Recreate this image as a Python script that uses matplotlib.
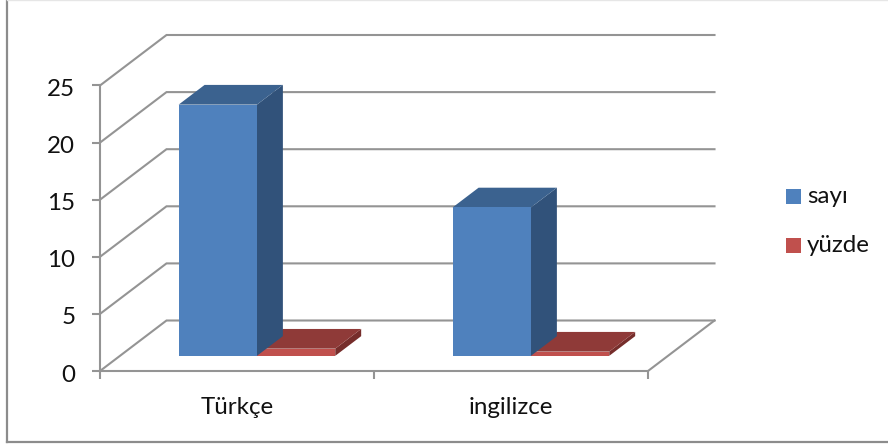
import matplotlib
matplotlib.use("Agg")
import matplotlib.pyplot as plt
from matplotlib.lines import Line2D
from matplotlib.patches import Polygon, Rectangle
from matplotlib.transforms import ScaledTranslation

plt.rcParams['font.family'] = ['Lato', 'DejaVu Sans']

categories = ["Türkçe", "ingilizce"]
series_names = ["sayı", "yüzde"]
sayi = [22, 13]
yuzde = [0.63, 0.37]
value_ticks = [0, 5, 10, 15, 20, 25]

W, H = 888, 448
GRID = "#949494"
TEXT = "#111111"
FONT = 17.4

# Face colours per series: front, top, side
BLUE = ("#4F81BD", "#3B628F", "#31527A")
RED = ("#C0504D", "#8F3A38", "#762D2B")

fig = plt.figure(figsize=(W / 100, H / 100), dpi=100)

# Outer chart frame
fig.add_artist(Line2D([6.5 / W, 6.5 / W], [1, 1 - 442 / H], color="#8C8C8C", lw=1.6))
fig.add_artist(Line2D([6.5 / W, 1], [1 - 442 / H, 1 - 442 / H], color="#8C8C8C", lw=1.6))
fig.add_artist(Line2D([6.5 / W, 1], [0.999, 0.999], color="#E6E6E6", lw=1))

# Axes rectangle is the front plane of the oblique box
left, right, bottom, top = 100, 648, 371, 85.5
ax = fig.add_axes([left / W, 1 - bottom / H, (right - left) / W, (bottom - top) / H])
ax.set_xlim(0, 2)
ax.set_ylim(0, 25)
ax.patch.set_visible(False)

PX_X = (right - left) / 2
PX_Y = (bottom - top) / 25
DEPTH_X = 66.5 / PX_X   # full depth of the box in data units
DEPTH_Y = 50.5 / PX_Y


def oblique(x, v, d):
    """Shift a data point by depth fraction d towards the back wall."""
    return x + d * DEPTH_X, v + d * DEPTH_Y


# Side-wall and back-wall gridlines
for v in value_ticks:
    xs, ys = zip(oblique(0, v, 0), oblique(0, v, 1), oblique(2, v, 1))
    ax.plot(xs, ys, color=GRID, lw=1.5, clip_on=False, zorder=1, solid_joinstyle="miter")
# Right floor edge
xs, ys = zip(oblique(2, 0, 0), oblique(2, 0, 1))
ax.plot(xs, ys, color=GRID, lw=1.5, clip_on=False, zorder=1)

GAP = 1.5
BAR = 1 / (len(series_names) + GAP)
D0, D1 = 0.30, 0.69


def bar3d(x0, value, colours):
    x1 = x0 + BAR
    faces = [
        (colours[2], [(x1, 0, D0), (x1, 0, D1), (x1, value, D1), (x1, value, D0)]),
        (colours[1], [(x0, value, D0), (x1, value, D0), (x1, value, D1), (x0, value, D1)]),
        (colours[0], [(x0, 0, D0), (x1, 0, D0), (x1, value, D0), (x0, value, D0)]),
    ]
    for colour, corners in faces:
        ax.add_patch(Polygon([oblique(*c) for c in corners], closed=True,
                             facecolor=colour, edgecolor="none", clip_on=False, zorder=3))


for i in range(len(categories)):
    start = i + GAP / 2 * BAR
    bar3d(start + BAR, yuzde[i], RED)
    bar3d(start, sayi[i], BLUE)

# Axis lines and ticks
for s in ("top", "right"):
    ax.spines[s].set_visible(False)
for s in ("left", "bottom"):
    ax.spines[s].set_color(GRID)
    ax.spines[s].set_linewidth(1.5)
    ax.spines[s].set_zorder(2)
ax.set_yticks(value_ticks)
ax.set_xticks([0, 1, 2])
ax.set_xticklabels([])
ax.set_xticks([0.5, 1.5], minor=True)
ax.set_xticklabels(categories, minor=True)
ax.tick_params(axis="both", which="major", color=GRID, width=1.5, length=5.8,
               labelsize=FONT, labelcolor=TEXT)
ax.tick_params(axis="y", pad=12)
ax.tick_params(axis="x", which="minor", length=0, labelsize=FONT, labelcolor=TEXT, pad=19)

# Value labels sit slightly below their ticks
nudge = ScaledTranslation(0, -2 / 100, fig.dpi_scale_trans)
for label in ax.get_yticklabels():
    label.set_transform(label.get_transform() + nudge)

# Legend drawn as swatches and labels
legend_y = [196.5, 245.5]
colours = [BLUE[0], RED[0]]
for name, y, c in zip(series_names, legend_y, colours):
    fig.add_artist(Rectangle((786 / W, 1 - (y + 7.5) / H), 15 / W, 15 / H,
                             transform=fig.transFigure, facecolor=c, edgecolor="none"))
    fig.text(807 / W, 1 - y / H, name, fontsize=FONT, color=TEXT, va="center", ha="left")

fig.savefig("out.png", dpi=100, facecolor="white")
